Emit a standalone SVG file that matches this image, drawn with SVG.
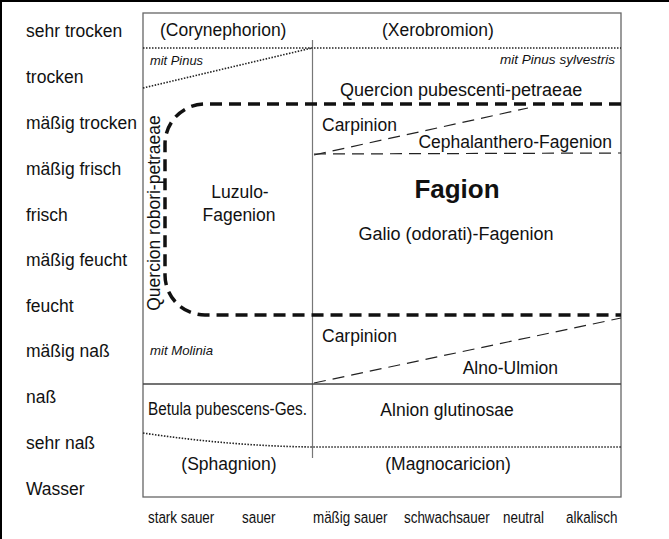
<svg xmlns="http://www.w3.org/2000/svg" width="669" height="539" viewBox="0 0 669 539">
<style>
.lbl{font-family:"Liberation Sans",Arial,sans-serif;font-size:17.5px;fill:#111}
.t{font-family:"Liberation Sans",Arial,sans-serif;font-size:17.5px;fill:#111}
.it{font-family:"Liberation Sans",Arial,sans-serif;font-size:13px;font-style:italic;fill:#111}
.ax{font-family:"Liberation Sans",Arial,sans-serif;font-size:17px;fill:#111}
.thick{fill:none;stroke:#111;stroke-width:3.5;stroke-dasharray:12 7}
.thin{fill:none;stroke:#222;stroke-width:1.2;stroke-dasharray:12 7}
.dot{fill:none;stroke:#222;stroke-width:1.6;stroke-dasharray:1.5 1.5}
.solid{fill:none;stroke:#444;stroke-width:1.3}
</style>
<rect x="0" y="0" width="669" height="539" fill="#fff"/>
<line x1="0" y1="1" x2="669" y2="1" stroke="#000" stroke-width="2"/>
<line x1="1" y1="0" x2="1" y2="539" stroke="#000" stroke-width="2"/>
<g id="frame">
<rect x="143" y="13" width="478" height="484" fill="none" stroke="#666" stroke-width="1.3"/>
<line x1="312.5" y1="40" x2="312.5" y2="458" stroke="#777" stroke-width="1.2"/>
</g>
<g id="connectors">
<line class="dot" x1="143" y1="48" x2="621" y2="48"/>
<line class="dot" x1="143" y1="88" x2="312" y2="48" stroke="#888"/>
<path class="thick" d="M621,104 H205 A40,40 0 0 0 165,144 V275 A40,40 0 0 0 205,315 H621"/>
<line class="thin" x1="314" y1="155" x2="528" y2="108"/>
<line class="thin" x1="314" y1="154" x2="621" y2="153"/>
<line class="thin" x1="314" y1="383" x2="621" y2="318"/>
<line class="solid" x1="143" y1="384" x2="621" y2="384"/>
<path class="dot" d="M143,433 Q230,446 312,447 H621"/>
</g>
<g id="moisture-labels">
<text class="lbl" x="26" y="37">sehr trocken</text>
<text class="lbl" x="26" y="83">trocken</text>
<text class="lbl" x="26" y="129">mäßig trocken</text>
<text class="lbl" x="26" y="175">mäßig frisch</text>
<text class="lbl" x="26" y="221">frisch</text>
<text class="lbl" x="26" y="266">mäßig feucht</text>
<text class="lbl" x="26" y="312">feucht</text>
<text class="lbl" x="26" y="357">mäßig naß</text>
<text class="lbl" x="26" y="403">naß</text>
<text class="lbl" x="26" y="449">sehr naß</text>
<text class="lbl" x="26" y="495">Wasser</text>
</g>
<g id="ph-labels" transform="scale(0.79,1)">
<text class="ax" x="187.3" y="523">stark sauer</text>
<text class="ax" x="306.3" y="523">sauer</text>
<text class="ax" x="396.2" y="523">mäßig sauer</text>
<text class="ax" x="511.4" y="523">schwachsauer</text>
<text class="ax" x="636.7" y="523">neutral</text>
<text class="ax" x="716.5" y="523">alkalisch</text>
</g>
<g id="Corynephorion"><text class="t" x="160" y="36">(Corynephorion)</text></g>
<g id="Xerobromion"><text class="t" x="382" y="36">(Xerobromion)</text></g>
<g id="mitPinus"><text class="it" x="150" y="65" textLength="53" lengthAdjust="spacingAndGlyphs">mit Pinus</text></g>
<g id="mitPinusSylvestris"><text class="it" x="500" y="64" textLength="115" lengthAdjust="spacingAndGlyphs">mit Pinus sylvestris</text></g>
<g id="QuercionPub"><text class="t" x="340" y="96" style="font-size:18px">Quercion pubescenti-petraeae</text></g>
<g id="Carpinion1"><text class="t" x="322" y="131">Carpinion</text></g>
<g id="Cephalanthero"><text class="t" x="612" y="148" text-anchor="end">Cephalanthero-Fagenion</text></g>
<g id="Fagion"><text x="457" y="198" text-anchor="middle" font-family="Liberation Sans,Arial,sans-serif" font-size="26" font-weight="bold" fill="#111">Fagion</text></g>
<g id="Galio"><text class="t" x="456" y="240" text-anchor="middle" style="font-size:18px">Galio (odorati)-Fagenion</text></g>
<g id="Luzulo"><text class="t" x="240" y="198" text-anchor="middle">Luzulo-</text><text class="t" x="239" y="221" text-anchor="middle">Fagenion</text></g>
<g id="QuercionRob"><text class="t" transform="translate(160,213) rotate(-90)" text-anchor="middle">Quercion robori-petraeae</text></g>
<g id="mitMolinia"><text class="it" x="150" y="355" textLength="63" lengthAdjust="spacingAndGlyphs">mit Molinia</text></g>
<g id="Carpinion2"><text class="t" x="322" y="342">Carpinion</text></g>
<g id="AlnoUlmion"><text class="t" x="558" y="374" text-anchor="end">Alno-Ulmion</text></g>
<g id="Betula"><text class="t" x="148" y="415" textLength="159" lengthAdjust="spacingAndGlyphs">Betula pubescens-Ges.</text></g>
<g id="Alnion"><text class="t" x="447" y="416" text-anchor="middle">Alnion glutinosae</text></g>
<g id="Sphagnion"><text class="t" x="229" y="470" text-anchor="middle">(Sphagnion)</text></g>
<g id="Magnocaricion"><text class="t" x="448" y="470" text-anchor="middle">(Magnocaricion)</text></g>
</svg>
